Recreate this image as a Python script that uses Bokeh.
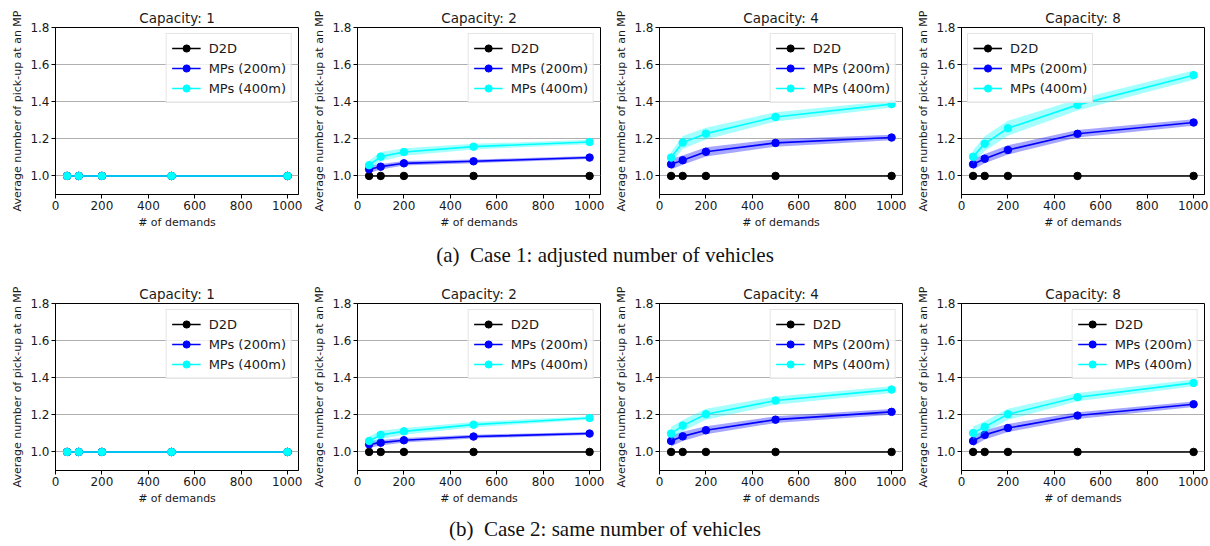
from bokeh.plotting import figure
from bokeh.layouts import column, row
from bokeh.models import FixedTicker, NumeralTickFormatter, Div
from bokeh.embed import file_html
from bokeh.resources import INLINE

demands = [50, 100, 200, 500, 1000]
d2d = [1.0, 1.0, 1.0, 1.0, 1.0]
capacities = ["Capacity: 1", "Capacity: 2", "Capacity: 4", "Capacity: 8"]
series_names = ["D2D", "MPs (200m)", "MPs (400m)"]
captions = ["(a)\u00a0\u00a0Case 1: adjusted number of vehicles",
            "(b)\u00a0\u00a0Case 2: same number of vehicles"]

# Case 1: adjusted number of vehicles
c1_cap1_mp200 = [1.0, 1.0, 1.0, 1.0, 1.0]
c1_cap1_mp400 = [1.0, 1.0, 1.0, 1.0, 1.0]
c1_cap1_sd200 = [0.0, 0.0, 0.0, 0.0, 0.0]
c1_cap1_sd400 = [0.0, 0.0, 0.0, 0.0, 0.0]
c1_cap2_mp200 = [1.036, 1.050, 1.068, 1.079, 1.099]
c1_cap2_mp400 = [1.058, 1.104, 1.129, 1.158, 1.183]
c1_cap2_sd200 = [0.020, 0.015, 0.012, 0.010, 0.008]
c1_cap2_sd400 = [0.025, 0.025, 0.020, 0.015, 0.012]
c1_cap4_mp200 = [1.063, 1.085, 1.130, 1.178, 1.207]
c1_cap4_mp400 = [1.099, 1.180, 1.228, 1.318, 1.387]
c1_cap4_sd200 = [0.028, 0.025, 0.025, 0.020, 0.015]
c1_cap4_sd400 = [0.030, 0.035, 0.032, 0.025, 0.018]
c1_cap8_mp200 = [1.063, 1.093, 1.140, 1.227, 1.288]
c1_cap8_mp400 = [1.104, 1.174, 1.257, 1.383, 1.543]
c1_cap8_sd200 = [0.028, 0.025, 0.025, 0.020, 0.018]
c1_cap8_sd400 = [0.035, 0.040, 0.040, 0.030, 0.025]

# Case 2: same number of vehicles
c2_cap1_mp200 = [1.0, 1.0, 1.0, 1.0, 1.0]
c2_cap1_mp400 = [1.0, 1.0, 1.0, 1.0, 1.0]
c2_cap1_sd200 = [0.0, 0.0, 0.0, 0.0, 0.0]
c2_cap1_sd400 = [0.0, 0.0, 0.0, 0.0, 0.0]
c2_cap2_mp200 = [1.041, 1.050, 1.063, 1.083, 1.099]
c2_cap2_mp400 = [1.059, 1.092, 1.111, 1.147, 1.183]
c2_cap2_sd200 = [0.020, 0.015, 0.012, 0.010, 0.008]
c2_cap2_sd400 = [0.025, 0.022, 0.018, 0.014, 0.010]
c2_cap4_mp200 = [1.059, 1.084, 1.117, 1.174, 1.216]
c2_cap4_mp400 = [1.099, 1.142, 1.203, 1.277, 1.336]
c2_cap4_sd200 = [0.030, 0.025, 0.022, 0.018, 0.015]
c2_cap4_sd400 = [0.035, 0.030, 0.030, 0.022, 0.018]
c2_cap8_mp200 = [1.059, 1.092, 1.129, 1.196, 1.257]
c2_cap8_mp400 = [1.102, 1.135, 1.203, 1.295, 1.372]
c2_cap8_sd200 = [0.028, 0.025, 0.022, 0.018, 0.015]
c2_cap8_sd400 = [0.035, 0.030, 0.030, 0.022, 0.018]

case1 = [
    (c1_cap1_mp200, c1_cap1_mp400, c1_cap1_sd200, c1_cap1_sd400, "top_right"),
    (c1_cap2_mp200, c1_cap2_mp400, c1_cap2_sd200, c1_cap2_sd400, "top_right"),
    (c1_cap4_mp200, c1_cap4_mp400, c1_cap4_sd200, c1_cap4_sd400, "top_right"),
    (c1_cap8_mp200, c1_cap8_mp400, c1_cap8_sd200, c1_cap8_sd400, "top_left"),
]
case2 = [
    (c2_cap1_mp200, c2_cap1_mp400, c2_cap1_sd200, c2_cap1_sd400, "top_right"),
    (c2_cap2_mp200, c2_cap2_mp400, c2_cap2_sd200, c2_cap2_sd400, "top_right"),
    (c2_cap4_mp200, c2_cap4_mp400, c2_cap4_sd200, c2_cap4_sd400, "top_right"),
    (c2_cap8_mp200, c2_cap8_mp400, c2_cap8_sd200, c2_cap8_sd400, "top_right"),
]

FONT = "DejaVu Sans"
TXT = "#1a1a1a"


def make_panel(title, mp200, mp400, sd200, sd400, loc):
    p = figure(frame_width=243, frame_height=167, min_border_left=55, min_border_right=4,
               min_border_top=27, min_border_bottom=41,
               x_range=(0, 1047), y_range=(0.9, 1.8),
               output_backend="svg", toolbar_location=None, title=title)
    p.title.align = "center"
    p.title.text_font = FONT
    p.title.text_font_size = "13.5px"
    p.title.text_font_style = "normal"
    p.title.text_color = TXT
    p.title.standoff = 4
    p.outline_line_color = "black"
    p.outline_line_alpha = 1.0
    p.outline_line_width = 1
    p.xgrid.visible = False
    p.ygrid.grid_line_color = "#b0b0b0"
    p.ygrid.grid_line_width = 1
    p.xaxis.ticker = FixedTicker(ticks=[0, 200, 400, 600, 800, 1000])
    p.yaxis.ticker = FixedTicker(ticks=[1.0, 1.2, 1.4, 1.6, 1.8])
    p.yaxis.formatter = NumeralTickFormatter(format="0.0")
    p.xaxis.axis_label = "# of demands"
    p.yaxis.axis_label = "Average number of pick-up at an MP"
    for ax in (p.xaxis, p.yaxis):
        ax.axis_label_text_font = FONT
        ax.axis_label_text_font_size = "11px"
        ax.axis_label_text_font_style = "normal"
        ax.axis_label_text_color = TXT
        ax.axis_label_standoff = 3
        ax.major_label_text_font = FONT
        ax.major_label_text_font_size = "12px"
        ax.major_label_text_color = TXT
        ax.major_label_standoff = 2
        ax.major_tick_in = 0
        ax.major_tick_out = 4
        ax.minor_tick_in = 0
        ax.minor_tick_out = 0
        ax.axis_line_color = "black"
        ax.major_tick_line_color = "black"

    lo200 = [m - s for m, s in zip(mp200, sd200)]
    hi200 = [m + s for m, s in zip(mp200, sd200)]
    lo400 = [m - s for m, s in zip(mp400, sd400)]
    hi400 = [m + s for m, s in zip(mp400, sd400)]

    p.line(demands, d2d, color="black", line_width=1.6, legend_label=series_names[0])
    p.scatter(demands, d2d, color="black", size=7.5, legend_label=series_names[0])
    p.varea(x=demands, y1=lo200, y2=hi200, fill_color="blue", fill_alpha=0.35)
    p.line(demands, mp200, color="blue", line_width=1.6, legend_label=series_names[1])
    p.scatter(demands, mp200, color="blue", size=7.5, legend_label=series_names[1])
    p.varea(x=demands, y1=lo400, y2=hi400, fill_color="cyan", fill_alpha=0.35)
    p.line(demands, mp400, color="cyan", line_width=1.6, legend_label=series_names[2])
    p.scatter(demands, mp400, color="cyan", size=7.5, legend_label=series_names[2])

    lg = p.legend[0]
    lg.location = loc
    lg.margin = 6
    lg.padding = 5
    lg.spacing = 2
    lg.label_height = 18
    lg.glyph_height = 18
    lg.glyph_width = 29
    lg.label_standoff = 8
    lg.label_text_font = FONT
    lg.label_text_font_size = "13px"
    lg.label_text_color = TXT
    lg.border_line_color = "#cccccc"
    lg.border_line_width = 1
    lg.background_fill_alpha = 0.8
    return p


def caption_div(text, h):
    return Div(text=f'<div style="width:1210px;text-align:center;font-family:\'Liberation Serif\',serif;'
                    f'font-size:21px;color:#111;line-height:{h}px;white-space:pre">{text}</div>',
               width=1210, height=h, margin=0)


row1 = row([make_panel(t, *d) for t, d in zip(capacities, case1)], spacing=0)
row2 = row([make_panel(t, *d) for t, d in zip(capacities, case2)], spacing=0)
layout = column([row1, caption_div(captions[0], 41), row2, caption_div(captions[1], 36)], spacing=0)

open("out.html", "w").write(file_html(layout, INLINE))
